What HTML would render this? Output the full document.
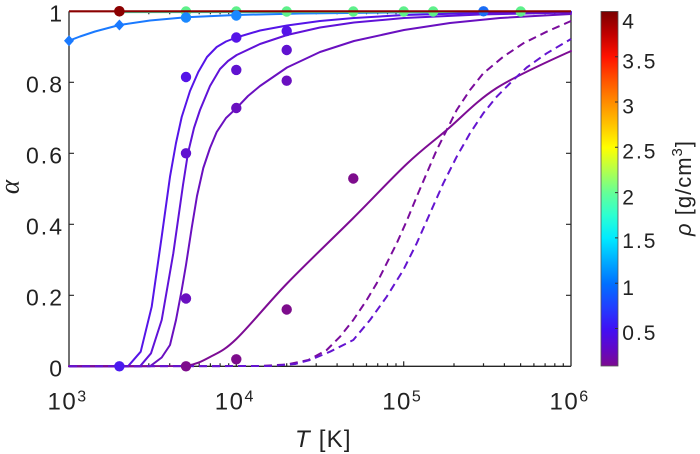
<!DOCTYPE html>
<html>
<head>
<meta charset="utf-8">
<style>
html,body{margin:0;padding:0;background:#fff;}
svg{display:block;}
text{font-family:"Liberation Sans",Arial,sans-serif;fill:#222;}
</style>
</head>
<body>
<svg width="700" height="454" viewBox="0 0 700 454" xmlns="http://www.w3.org/2000/svg">
<defs>
<linearGradient id="cmap" x1="0" y1="0" x2="0" y2="1">
<stop offset="0" stop-color="#7a0000"/>
<stop offset="0.064" stop-color="#c00000"/>
<stop offset="0.128" stop-color="#ff1200"/>
<stop offset="0.192" stop-color="#ff5200"/>
<stop offset="0.256" stop-color="#ff8c00"/>
<stop offset="0.32" stop-color="#ffc400"/>
<stop offset="0.384" stop-color="#ffff00"/>
<stop offset="0.448" stop-color="#b4ff4c"/>
<stop offset="0.512" stop-color="#64ff98"/>
<stop offset="0.576" stop-color="#2cffd2"/>
<stop offset="0.64" stop-color="#00eaff"/>
<stop offset="0.704" stop-color="#00acff"/>
<stop offset="0.768" stop-color="#0070ff"/>
<stop offset="0.832" stop-color="#2040ff"/>
<stop offset="0.896" stop-color="#4010f4"/>
<stop offset="0.95" stop-color="#6008c8"/>
<stop offset="1" stop-color="#7c0a90"/>
</linearGradient>
</defs>
<rect width="700" height="454" fill="#fff"/>

<!-- axes box -->
<g stroke="#262626" stroke-width="1.3" fill="none">
<line x1="69" y1="11.3" x2="69" y2="366.3"/>
<line x1="69" y1="366.3" x2="571" y2="366.3"/>
<line x1="571" y1="11.3" x2="571" y2="366.3"/>
<line x1="69" y1="11.3" x2="571" y2="11.3"/>
</g>
<!-- ticks -->
<g stroke="#262626" stroke-width="1.2">
<line x1="236.3" y1="366.3" x2="236.3" y2="361.3"/><line x1="403.7" y1="366.3" x2="403.7" y2="361.3"/>
<line x1="236.3" y1="11.3" x2="236.3" y2="16.3"/><line x1="403.7" y1="11.3" x2="403.7" y2="16.3"/>
<path d="M119.4 366.3v-3M148.8 366.3v-3M169.7 366.3v-3M186 366.3v-3M199.2 366.3v-3M210.4 366.3v-3M220.1 366.3v-3M228.7 366.3v-3
M286.7 366.3v-3M316.2 366.3v-3M337.1 366.3v-3M353.3 366.3v-3M366.5 366.3v-3M377.7 366.3v-3M387.5 366.3v-3M396 366.3v-3
M454 366.3v-3M483.5 366.3v-3M504.4 366.3v-3M520.6 366.3v-3M533.9 366.3v-3M545.1 366.3v-3M554.8 366.3v-3M563.3 366.3v-3"/>
<path d="M119.4 11.3v3M148.8 11.3v3M169.7 11.3v3M186 11.3v3M199.2 11.3v3M210.4 11.3v3M220.1 11.3v3M228.7 11.3v3
M286.7 11.3v3M316.2 11.3v3M337.1 11.3v3M353.3 11.3v3M366.5 11.3v3M377.7 11.3v3M387.5 11.3v3M396 11.3v3
M454 11.3v3M483.5 11.3v3M504.4 11.3v3M520.6 11.3v3M533.9 11.3v3M545.1 11.3v3M554.8 11.3v3M563.3 11.3v3"/>
<path d="M69 295.3h5M69 224.3h5M69 153.3h5M69 82.3h5M571 295.3h-5M571 224.3h-5M571 153.3h-5M571 82.3h-5"/>
</g>

<!-- y tick labels -->
<g font-size="23" text-anchor="end" letter-spacing="2">
<text x="64" y="376.7">0</text>
<text x="64" y="305.7">0.2</text>
<text x="64" y="234.7">0.4</text>
<text x="64" y="163.7">0.6</text>
<text x="64" y="92.7">0.8</text>
<text x="64" y="21.7">1</text>
</g>
<!-- x tick labels -->
<g font-size="24" letter-spacing="1.5">
<text x="47.5" y="409.3">10<tspan font-size="16" dy="-8" letter-spacing="0">3</tspan></text>
<text x="214.8" y="409.3">10<tspan font-size="16" dy="-8" letter-spacing="0">4</tspan></text>
<text x="382.2" y="409.3">10<tspan font-size="16" dy="-8" letter-spacing="0">5</tspan></text>
<text x="549.5" y="409.3">10<tspan font-size="16" dy="-8" letter-spacing="0">6</tspan></text>
</g>
<!-- axis labels -->
<text x="295" y="447" font-size="24" letter-spacing="1.2"><tspan font-style="italic">T</tspan> [K]</text>
<text transform="translate(18.5,187) rotate(-90)" text-anchor="middle" font-size="27" font-style="italic" style="font-family:'Liberation Serif',serif">α</text>

<!-- curves -->
<g fill="none" stroke-width="2" stroke-linejoin="round" stroke-linecap="round">
<polyline stroke="#1a7aff" points="69,40.7 80,36.5 95,31.5 119.4,25 150,20.5 186,17.3 236,15 300,13.5 400,12.4 571,11.8"/>
<line x1="119" y1="12.4" x2="571" y2="12.4" stroke="#3ce8b0" stroke-width="1.5"/>
<polyline stroke="#5514e8" points="69,366.3 128,366.3 140.7,351.7 151.7,306.7 161.7,236.7 170,176.7 176,143 181.7,117 190,91 198.3,72 207,57 216.7,47 226,41.5 236.3,37.5 260,30.5 287,25.5 320,21 354,18 404,15 480,13 571,12"/>
<polyline stroke="#6012d8" points="69,366.3 140,366.3 151,353.3 161.7,320 173.3,253.3 183,185 188,153 194,128 200,110 210,86 220,69 228,61 236.7,55 260,44 287,35 320,27.5 354,22.5 404,18 480,14.5 571,12.5"/>
<polyline stroke="#6a10c0" points="69,366.3 150,366.3 161.7,357.5 170,345 176,320 181.7,290 186,265 191.7,228 197,196 203.3,168 210,148 216.7,132 226,118 236.3,108.3 248,96 260,86 287,67.5 320,52 354,41 404,30 450,23 500,18 571,14"/>
<path stroke="#7d0c94" d="M69,366.3 L186,366 C196,364.45 201.6,361.5 210,357 C218.4,352.5 223.5,351.25 236.3,339 C249.1,326.75 267.5,303.7 287,283.5 C306.5,263.3 333.35,237.9 353.3,218 C373.25,198.1 391.1,178.7 406.7,164 C422.3,149.3 431.7,142.7 446.7,130 C461.7,117.3 476,101.2 496.7,88 C517.4,74.8 553.8,59 571,51"/>
<polyline stroke="#7a0c9c" stroke-dasharray="8 5" stroke-linecap="butt" points="69,366.3 260,366 287,364.5 308.3,360 326.7,350 340,336.7 353.3,320 366.7,300 376.7,283.3 386.7,263.3 396.7,243.3 406.7,221 416.7,196.7 426.7,173.3 436.7,150 446.7,130 456.7,110 470,90 483.3,73.3 503.3,56.7 523.3,43.3 546.7,31.7 571,21"/>
<polyline stroke="#6414d0" stroke-dasharray="8 5" stroke-linecap="butt" points="69,366.3 270,366 295,364 310,360 330,351.7 353.3,340 370,320 386.7,296.7 403.3,270 416.7,243.3 430,213.3 443.3,183.3 456.7,156.7 470,133.3 483.3,113.3 496.7,96.7 513.3,80 526.7,67.5 546.7,53.3 571,39"/>
</g>

<!-- markers -->
<g>
<g fill="#5ef08a">
<circle cx="186" cy="11.5" r="5.2"/><circle cx="236.3" cy="11.5" r="5.2"/><circle cx="286.7" cy="11.5" r="5.2"/>
<circle cx="353.3" cy="11.5" r="5.2"/><circle cx="403.7" cy="11.5" r="5.2"/><circle cx="433.2" cy="11.5" r="5.2"/>
<circle cx="520.7" cy="11.5" r="5.2"/>
</g>
<circle cx="483.5" cy="11.3" r="5.2" fill="#1a6cf5"/>
<line x1="69" y1="11.3" x2="571" y2="11.3" stroke="#8b0000" stroke-width="2.2"/>
<circle cx="119.4" cy="11.3" r="5.3" fill="#8b0000"/>
<circle cx="186" cy="17.5" r="5.2" fill="#1a88ff"/>
<circle cx="236.3" cy="15.5" r="5.2" fill="#1a88ff"/>
<polygon points="69,35.2 74,40.7 69,46.2 64,40.7" fill="#1a7aff"/>
<polygon points="119.4,19.5 124.4,25 119.4,30.5 114.4,25" fill="#1a7aff"/>
<circle cx="119.4" cy="366.3" r="5.2" fill="#4a1af0"/>
<g fill="#5514e8">
<circle cx="186" cy="77" r="5.2"/><circle cx="236.3" cy="37.5" r="5.2"/><circle cx="286.7" cy="31" r="5.2"/>
</g>
<g fill="#6012d0">
<circle cx="186" cy="153.3" r="5.2"/><circle cx="236.3" cy="69.9" r="5.2"/><circle cx="286.7" cy="50" r="5.2"/>
</g>
<g fill="#6a10c0">
<circle cx="186" cy="298.5" r="5.2"/><circle cx="236.3" cy="108" r="5.2"/><circle cx="286.7" cy="80.7" r="5.2"/>
</g>
<g fill="#7d0c8c">
<circle cx="186" cy="366.3" r="5.2"/><circle cx="236.3" cy="359.3" r="5.2"/><circle cx="286.7" cy="309.5" r="5.2"/><circle cx="353.3" cy="178.5" r="5.2"/>
</g>
</g>

<!-- colorbar -->
<rect x="601" y="11.4" width="17" height="354.6" fill="url(#cmap)" stroke="#555" stroke-width="0.8"/>
<g stroke="#333" stroke-width="1">
<path d="M618 56.7h-3M618 102h-3M618 147.3h-3M618 192.6h-3M618 237.9h-3M618 283.2h-3M618 328.5h-3"/>
</g>
<g font-size="21" letter-spacing="2">
<text x="622.3" y="28.3">4</text>
<text x="622.3" y="68.3">3.5</text>
<text x="622.3" y="113.3">3</text>
<text x="622.3" y="158.3">2.5</text>
<text x="622.3" y="204.5">2</text>
<text x="622.3" y="248">1.5</text>
<text x="622.3" y="295">1</text>
<text x="622.3" y="340">0.5</text>
</g>
<text transform="translate(691,188) rotate(-90)" text-anchor="middle" font-size="22" letter-spacing="1"><tspan font-style="italic">ρ</tspan> [g/cm<tspan font-size="15" dy="-9">3</tspan><tspan dy="9">]</tspan></text>
</svg>
</body>
</html>
